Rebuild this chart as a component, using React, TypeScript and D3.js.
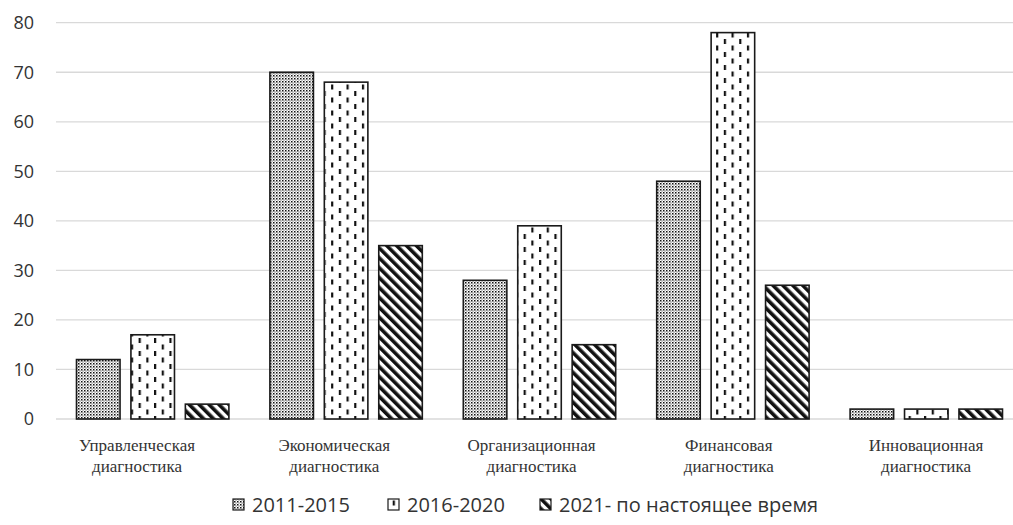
import React from "react";
import * as d3 from "d3";

const categories = [
  ["Управленческая", "диагностика"],
  ["Экономическая", "диагностика"],
  ["Организационная", "диагностика"],
  ["Финансовая", "диагностика"],
  ["Инновационная", "диагностика"],
];
const seriesNames = ["2011-2015", "2016-2020", "2021- по настоящее время"];
const s2011 = [12, 70, 28, 48, 2];
const s2016 = [17, 68, 39, 78, 2];
const s2021 = [3, 35, 15, 27, 2];
const yTicks = [0, 10, 20, 30, 40, 50, 60, 70, 80];

const W = 1013;
const H = 525;
const plotLeft = 56;
const bandW = 193.4;
const yTop = 22.7;
const yBottom = 419;

export default function App() {
  const series = [s2011, s2016, s2021];
  const keys = categories.map((c) => c.join(" "));
  const x = d3
    .scaleBand<string>()
    .domain(keys)
    .range([plotLeft, plotLeft + bandW * keys.length])
    .paddingInner(0)
    .paddingOuter(0);
  const inner = d3
    .scaleBand<number>()
    .domain([0, 1, 2])
    .range([20.5, bandW - 20.5])
    .paddingInner(0.2)
    .paddingOuter(0);
  const y = d3.scaleLinear().domain([0, 80]).range([yBottom, yTop]);
  const labelX = d3.scalePoint<string>().domain(keys).range([137, 926]);
  const fills = ["url(#pDots)", "url(#pDash)", "url(#pDiag)"];
  const legendX = [233, 388, 540];

  return (
    <svg
      width={W}
      height={H}
      style={{ position: "absolute", left: 0, top: 0, background: "#fff" }}
    >
      <defs>
        <pattern id="pDots" width="3" height="3" patternUnits="userSpaceOnUse">
          <rect width="3" height="3" fill="#fff" />
          <rect x="0" y="0" width="1.5" height="1.5" fill="#111" />
          <rect x="1.5" y="1.5" width="1.1" height="1.1" fill="#555" />
        </pattern>
        <pattern id="pDash" width="15.4" height="13" patternUnits="userSpaceOnUse">
          <rect width="15.4" height="13" fill="#fff" />
          <rect x="0" y="0" width="2.2" height="5" fill="#111" />
          <rect x="7.7" y="6.5" width="2.2" height="5" fill="#111" />
        </pattern>
        <pattern
          id="pDiag"
          width="7"
          height="7"
          patternUnits="userSpaceOnUse"
          patternTransform="rotate(-45)"
        >
          <rect width="7" height="7" fill="#fff" />
          <rect x="0" y="0" width="3.6" height="7" fill="#111" />
        </pattern>
      </defs>

      {yTicks.map((t) => (
        <g key={t}>
          <line
            x1={plotLeft}
            x2={W}
            y1={y(t)}
            y2={y(t)}
            stroke="#d9d9d9"
            strokeWidth={1.3}
          />
          <text
            x={34}
            y={y(t)}
            dy="0.35em"
            textAnchor="end"
            fontFamily="'Open Sans', sans-serif"
            fontSize={18}
            fill="#333"
          >
            {t}
          </text>
        </g>
      ))}

      {keys.map((k, i) => (
        <g key={k}>
          {series.map((s, j) => (
            <rect
              key={j}
              x={(x(k) ?? 0) + (inner(j) ?? 0)}
              y={y(s[i])}
              width={inner.bandwidth()}
              height={y(0) - y(s[i])}
              fill={fills[j]}
              stroke="#1a1a1a"
              strokeWidth={1.6}
            />
          ))}
          <text
            x={labelX(k)}
            y={451}
            textAnchor="middle"
            fontFamily="'Liberation Serif', 'Times New Roman', serif"
            fontSize={17}
            fill="#333"
          >
            <tspan x={labelX(k)}>{categories[i][0]}</tspan>
            <tspan x={labelX(k)} dy={21}>
              {categories[i][1]}
            </tspan>
          </text>
        </g>
      ))}

      {seriesNames.map((n, j) => (
        <g key={n}>
          <rect
            x={legendX[j]}
            y={499}
            width={11}
            height={11}
            fill={fills[j]}
            stroke="#1a1a1a"
            strokeWidth={1.2}
          />
          <text
            x={legendX[j] + 19}
            y={512}
            fontFamily="'Open Sans', sans-serif"
            fontSize={20}
            fill="#333"
          >
            {n}
          </text>
        </g>
      ))}
    </svg>
  );
}
